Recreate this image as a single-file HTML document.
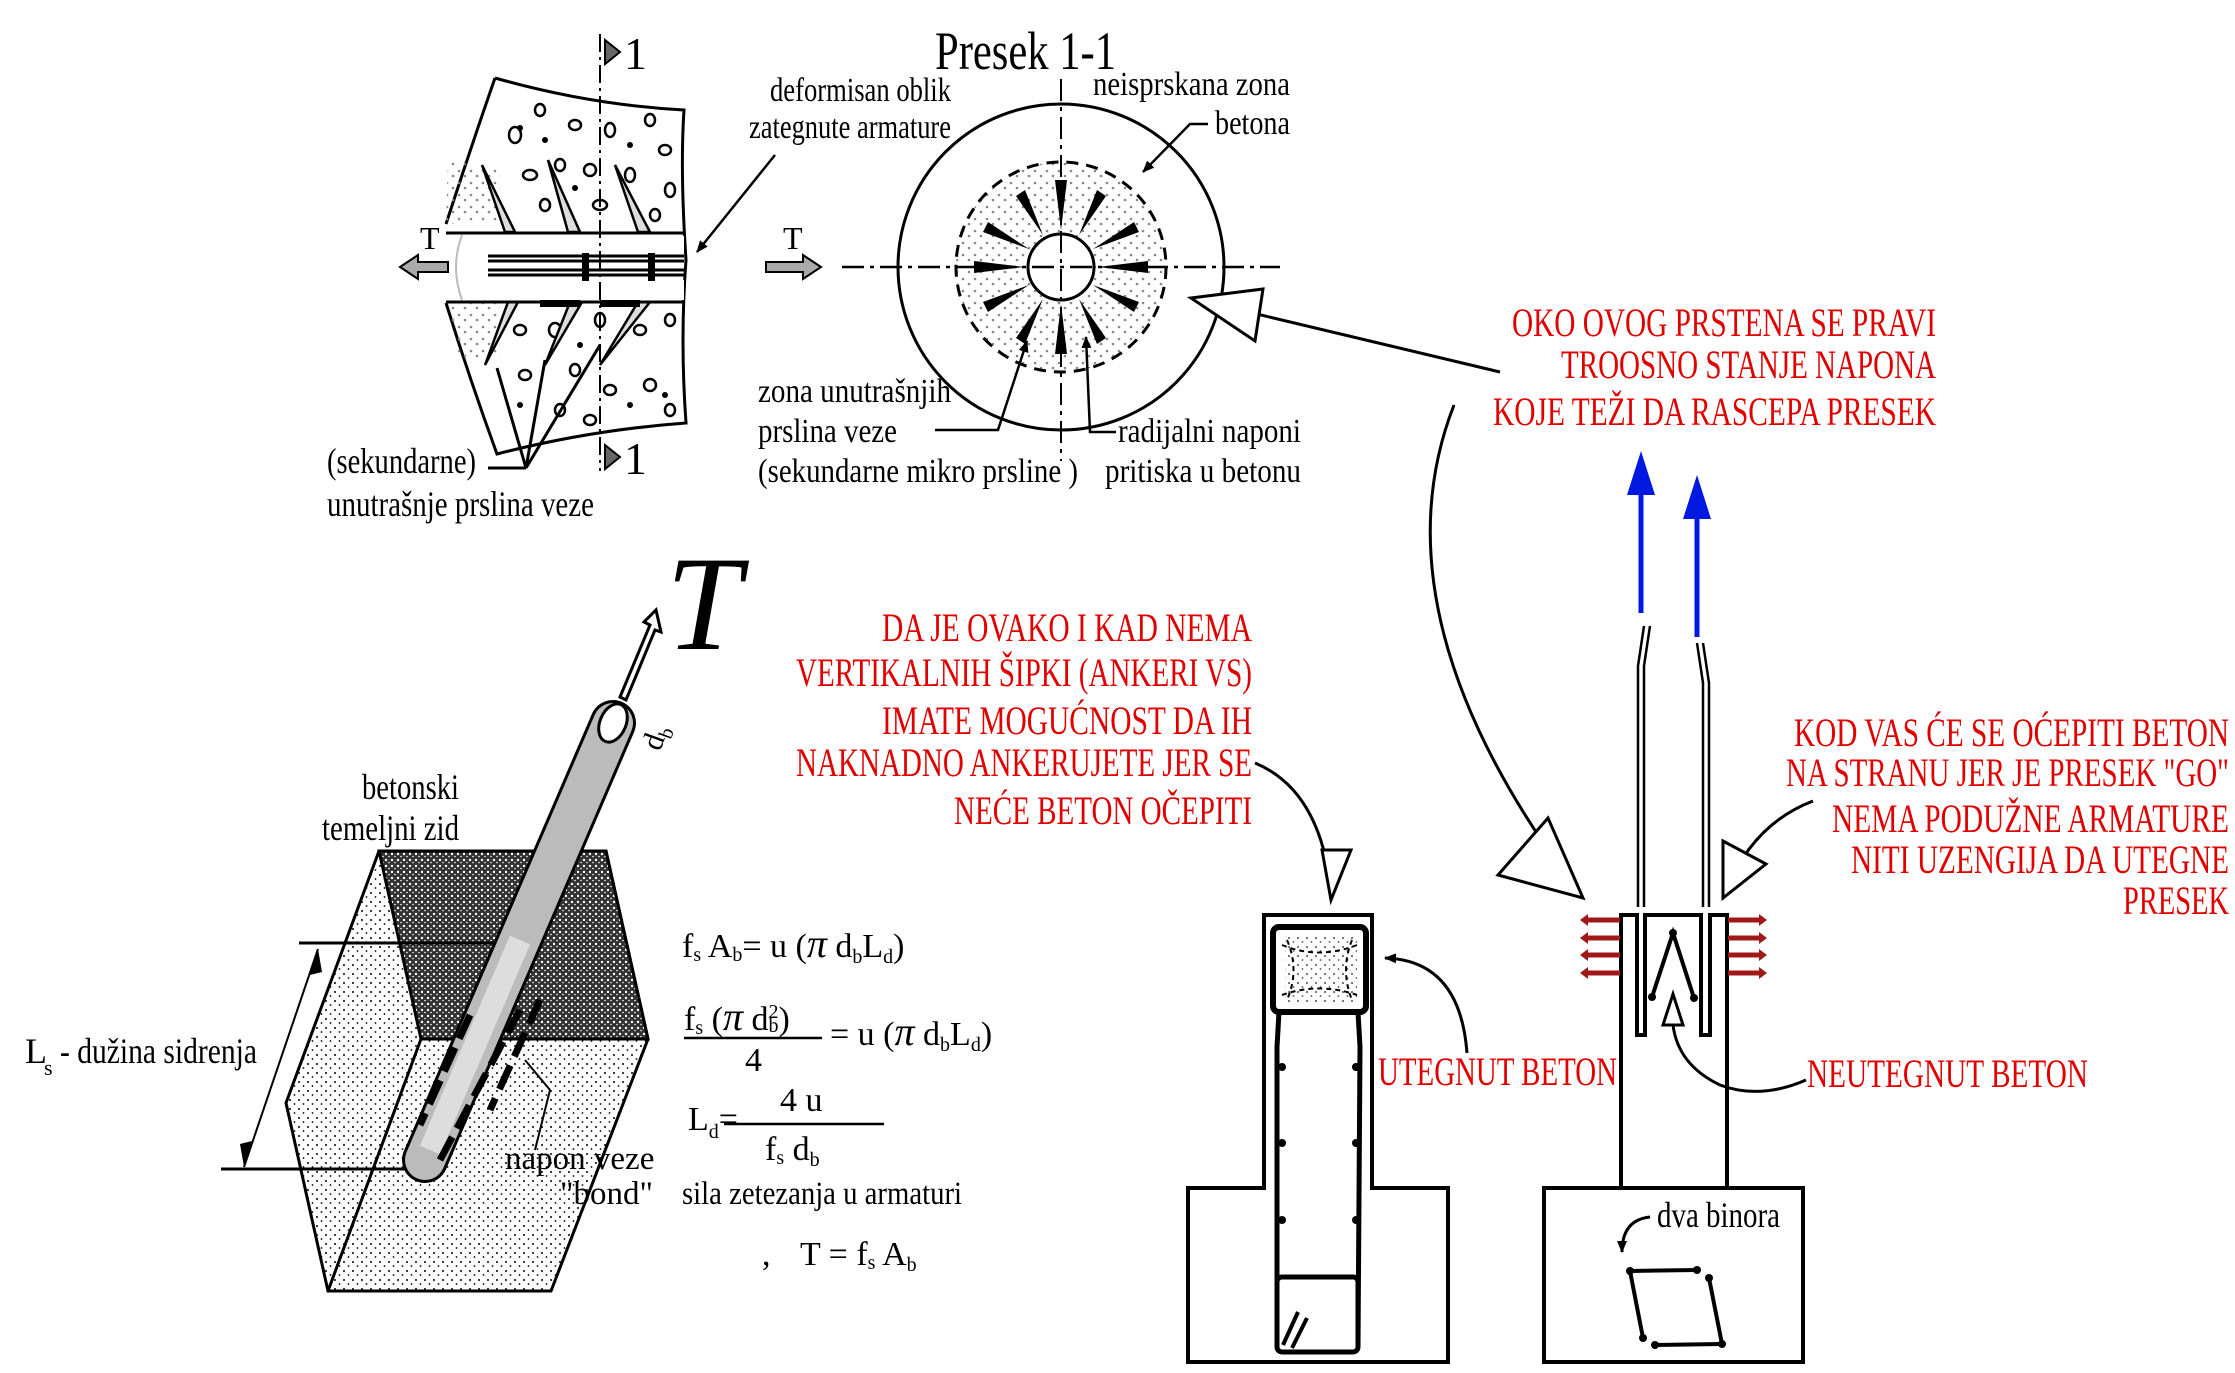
<!DOCTYPE html>
<html><head><meta charset="utf-8"><style>
html,body{margin:0;padding:0;background:#fff}
svg{display:block}
text{font-family:"Liberation Serif",serif}
.r{fill:#e00000}
.k{fill:#000}
</style></head><body>
<svg width="2235" height="1373" viewBox="0 0 2235 1373" xmlns="http://www.w3.org/2000/svg">
<defs>
<pattern id="dots" width="9" height="9" patternUnits="userSpaceOnUse">
<circle cx="2" cy="2" r="1" fill="#000"/><circle cx="6.5" cy="6" r="0.9" fill="#000"/></pattern>
<pattern id="gdots" width="12" height="12" patternUnits="userSpaceOnUse">
<circle cx="3" cy="3" r="1.3" fill="#888"/><circle cx="9" cy="8" r="1.3" fill="#888"/></pattern>
<pattern id="dark" width="6" height="6" patternUnits="userSpaceOnUse">
<rect width="6" height="6" fill="#333"/><circle cx="2" cy="2" r="1.2" fill="#fff"/><circle cx="5" cy="4.5" r="0.8" fill="#fff"/></pattern>
<marker id="ah" markerWidth="12" markerHeight="10" refX="11" refY="5" orient="auto" markerUnits="userSpaceOnUse"><path d="M0,0 L12,5 L0,10 Z" fill="#000"/></marker>
</defs>

<!-- ===== TOP LEFT BLOCK ===== -->
<g stroke="#000" stroke-width="3" fill="none">
<path d="M495,78 Q590,105 684,110 Q680,170 686,260 Q680,340 686,423 Q590,430 497,454 Q470,380 446,303" fill="#fff"/>
<path d="M495,78 Q470,150 446,224"/>
</g>
<path d="M448,160 L500,170 L500,220 L446,224 Z" fill="url(#gdots)"/>
<path d="M448,305 L500,300 L500,360 L460,360 Z" fill="url(#gdots)"/>
<g stroke="#000" stroke-width="2.5" fill="none">
<ellipse cx="515" cy="135" rx="6" ry="8"/><ellipse cx="540" cy="110" rx="5" ry="6"/><ellipse cx="575" cy="125" rx="6" ry="5"/>
<ellipse cx="610" cy="130" rx="5" ry="7"/><ellipse cx="650" cy="120" rx="5" ry="6"/><ellipse cx="665" cy="150" rx="6" ry="5"/>
<ellipse cx="530" cy="175" rx="7" ry="5"/><ellipse cx="560" cy="165" rx="5" ry="6"/><ellipse cx="590" cy="170" rx="6" ry="6"/>
<ellipse cx="630" cy="175" rx="5" ry="7"/><ellipse cx="670" cy="190" rx="5" ry="7"/><ellipse cx="545" cy="205" rx="5" ry="6"/>
<ellipse cx="600" cy="205" rx="7" ry="5"/><ellipse cx="655" cy="215" rx="5" ry="6"/>
<ellipse cx="520" cy="330" rx="6" ry="5"/><ellipse cx="555" cy="330" rx="6" ry="7"/><ellipse cx="600" cy="320" rx="5" ry="7"/>
<ellipse cx="640" cy="330" rx="6" ry="5"/><ellipse cx="670" cy="320" rx="5" ry="6"/><ellipse cx="525" cy="375" rx="6" ry="5"/>
<ellipse cx="575" cy="370" rx="5" ry="6"/><ellipse cx="610" cy="390" rx="6" ry="5"/><ellipse cx="650" cy="385" rx="6" ry="6"/>
<ellipse cx="560" cy="410" rx="5" ry="6"/><ellipse cx="670" cy="410" rx="5" ry="6"/><ellipse cx="590" cy="420" rx="6" ry="5"/>
</g>
<g fill="#000"><circle cx="520" cy="128" r="3"/><circle cx="545" cy="140" r="3"/><circle cx="630" cy="145" r="3"/><circle cx="575" cy="188" r="3"/><circle cx="645" cy="250" r="3"/><circle cx="580" cy="345" r="3"/><circle cx="520" cy="405" r="3"/><circle cx="665" cy="395" r="3"/><circle cx="630" cy="405" r="3"/></g>
<g stroke="#000" stroke-width="2.5" fill="#ddd">
<path d="M482,165 L515,232 L505,232 Z"/><path d="M548,160 L580,232 L568,232 Z"/><path d="M615,165 L650,232 L638,232 Z"/>
<path d="M485,365 L518,302 L508,302 Z"/><path d="M545,365 L582,302 L570,302 Z"/><path d="M600,365 L650,302 L638,302 Z"/>
</g>
<rect x="488" y="236" width="196" height="18" fill="#fff"/>
<rect x="488" y="280" width="196" height="20" fill="#fff"/>
<g stroke="#000" stroke-width="3">
<line x1="446" y1="233" x2="684" y2="233"/><line x1="446" y1="302" x2="684" y2="302"/>
<line x1="488" y1="256" x2="684" y2="256"/><line x1="488" y1="261" x2="684" y2="261"/>
<line x1="488" y1="270" x2="684" y2="270"/><line x1="488" y1="275" x2="684" y2="275"/>
</g>
<path d="M462,235 Q450,267 462,300" stroke="#bbb" stroke-width="2" fill="none"/>
<g fill="#000"><rect x="582" y="253" width="7" height="28"/><rect x="648" y="253" width="7" height="28"/><rect x="540" y="300" width="40" height="7"/><rect x="600" y="300" width="40" height="7"/></g>
<g stroke="#000" stroke-width="3" fill="none"><line x1="488" y1="468" x2="526" y2="468"/><line x1="526" y1="468" x2="497" y2="368"/><line x1="526" y1="468" x2="545" y2="360"/><line x1="526" y1="468" x2="600" y2="345"/></g>
<line x1="600" y1="34" x2="600" y2="471" stroke="#000" stroke-width="2" stroke-dasharray="18,5,3,5"/>
<path d="M605,40 L620,52 L605,64 Z" fill="#666" stroke="#000" stroke-width="2"/>
<path d="M605,445 L620,457 L605,469 Z" fill="#666" stroke="#000" stroke-width="2"/>
<text x="624" y="69" class="k" font-size="46">1</text>
<text x="624" y="474" class="k" font-size="46">1</text>
<path d="M400,267 L418,255 L418,262 L448,262 L448,272 L418,272 L418,279 Z" fill="#aaa" stroke="#000" stroke-width="2"/>
<text x="420" y="249" class="k" font-size="32">T</text>
<path d="M821,267 L803,255 L803,262 L766,262 L766,272 L803,272 L803,279 Z" fill="#aaa" stroke="#000" stroke-width="2"/>
<text x="783" y="249" class="k" font-size="32">T</text>
<text x="770" y="101" class="k" font-size="34" textLength="181" lengthAdjust="spacingAndGlyphs">deformisan oblik</text>
<text x="749" y="138" class="k" font-size="34" textLength="202" lengthAdjust="spacingAndGlyphs">zategnute armature</text>
<line x1="775" y1="155" x2="697" y2="252" stroke="#000" stroke-width="2.5" marker-end="url(#ah)"/>
<text x="327" y="473" class="k" font-size="36" textLength="149" lengthAdjust="spacingAndGlyphs">(sekundarne)</text>
<text x="327" y="516" class="k" font-size="36" textLength="267" lengthAdjust="spacingAndGlyphs">unutrašnje prslina veze</text>

<!-- ===== PRESEK 1-1 ===== -->
<text x="935" y="69" class="k" font-size="54" textLength="181" lengthAdjust="spacingAndGlyphs">Presek 1-1</text>
<circle cx="1061" cy="267" r="105" fill="url(#gdots)"/>
<circle cx="1061" cy="267" r="163" fill="none" stroke="#000" stroke-width="3"/>
<circle cx="1061" cy="267" r="105" fill="none" stroke="#000" stroke-width="3" stroke-dasharray="12,8"/>
<circle cx="1061" cy="267" r="33" fill="#fff" stroke="#000" stroke-width="3"/>
<line x1="842" y1="267" x2="1280" y2="267" stroke="#000" stroke-width="2.5" stroke-dasharray="22,6,4,6"/>
<line x1="1061" y1="79" x2="1061" y2="461" stroke="#000" stroke-width="2" stroke-dasharray="22,6,4,6"/>
<g fill="#000">
<path d="M1061,230 L1055,180 L1067,180 Z"/><path d="M1061,304 L1055,354 L1067,354 Z"/>
<path d="M1024,267 L974,261 L974,273 Z"/><path d="M1098,267 L1148,261 L1148,273 Z"/>
<path d="M1079,235 L1097,190 L1106,196 Z"/><path d="M1043,235 L1025,190 L1016,196 Z"/>
<path d="M1079,299 L1097,344 L1106,338 Z"/><path d="M1043,299 L1025,344 L1016,338 Z"/>
<path d="M1093,249 L1134,222 L1139,232 Z"/><path d="M1029,249 L988,222 L983,232 Z"/>
<path d="M1093,285 L1134,312 L1139,302 Z"/><path d="M1029,285 L988,312 L983,302 Z"/>
</g>
<text x="1093" y="95" class="k" font-size="34" textLength="197" lengthAdjust="spacingAndGlyphs">neisprskana zona</text>
<text x="1215" y="134" class="k" font-size="34" textLength="75" lengthAdjust="spacingAndGlyphs">betona</text>
<polyline points="1208,124 1190,124 1143,172" fill="none" stroke="#000" stroke-width="2.5" marker-end="url(#ah)"/>
<text x="758" y="402" class="k" font-size="34" textLength="193" lengthAdjust="spacingAndGlyphs">zona unutrašnjih</text>
<text x="758" y="442" class="k" font-size="34" textLength="139" lengthAdjust="spacingAndGlyphs">prslina veze</text>
<text x="758" y="482" class="k" font-size="34" textLength="320" lengthAdjust="spacingAndGlyphs">(sekundarne mikro prsline )</text>
<polyline points="935,430 998,430 1027,341" fill="none" stroke="#000" stroke-width="2.5" marker-end="url(#ah)"/>
<text x="1118" y="442" class="k" font-size="34" textLength="183" lengthAdjust="spacingAndGlyphs">radijalni naponi</text>
<text x="1105" y="482" class="k" font-size="34" textLength="196" lengthAdjust="spacingAndGlyphs">pritiska u betonu</text>
<polyline points="1116,432 1090,432 1086,337" fill="none" stroke="#000" stroke-width="2.5" marker-end="url(#ah)"/>
<line x1="1500" y1="372" x2="1240" y2="310" stroke="#000" stroke-width="3"/>
<path d="M1191,298 L1263,289 L1255,341 Z" fill="#fff" stroke="#000" stroke-width="3"/>

<!-- ===== RED TEXTS ===== -->
<g class="r" text-anchor="end" font-size="40">
<text x="1936" y="336" textLength="424" lengthAdjust="spacingAndGlyphs">OKO OVOG PRSTENA SE PRAVI</text>
<text x="1936" y="378" textLength="375" lengthAdjust="spacingAndGlyphs">TROOSNO STANJE NAPONA</text>
<text x="1936" y="425" textLength="443" lengthAdjust="spacingAndGlyphs">KOJE TEŽI DA RASCEPA PRESEK</text>
<text x="1252" y="641" textLength="370" lengthAdjust="spacingAndGlyphs">DA JE OVAKO I KAD NEMA</text>
<text x="1252" y="686" textLength="456" lengthAdjust="spacingAndGlyphs">VERTIKALNIH ŠIPKI (ANKERI VS)</text>
<text x="1252" y="734" textLength="370" lengthAdjust="spacingAndGlyphs">IMATE MOGUĆNOST DA IH</text>
<text x="1252" y="776" textLength="456" lengthAdjust="spacingAndGlyphs">NAKNADNO ANKERUJETE JER SE</text>
<text x="1252" y="824" textLength="298" lengthAdjust="spacingAndGlyphs">NEĆE BETON OČEPITI</text>
<text x="2229" y="746" textLength="435" lengthAdjust="spacingAndGlyphs">KOD VAS ĆE SE OĆEPITI BETON</text>
<text x="2229" y="786" textLength="443" lengthAdjust="spacingAndGlyphs">NA STRANU JER JE PRESEK "GO"</text>
<text x="2229" y="832" textLength="397" lengthAdjust="spacingAndGlyphs">NEMA PODUŽNE ARMATURE</text>
<text x="2229" y="873" textLength="378" lengthAdjust="spacingAndGlyphs">NITI UZENGIJA DA UTEGNE</text>
<text x="2229" y="914" textLength="106" lengthAdjust="spacingAndGlyphs">PRESEK</text>
</g>
<text x="1378" y="1085" class="r" font-size="40" textLength="239" lengthAdjust="spacingAndGlyphs">UTEGNUT BETON</text>
<text x="1807" y="1087" class="r" font-size="40" textLength="281" lengthAdjust="spacingAndGlyphs">NEUTEGNUT BETON</text>

<path d="M1454,405 Q1370,620 1583,898" fill="none" stroke="#000" stroke-width="3"/>
<path d="M1498,875 L1548,818 L1583,898 Z" fill="#fff" stroke="#000" stroke-width="3"/>
<path d="M1813,801 Q1750,825 1723,898" fill="none" stroke="#000" stroke-width="3"/>
<path d="M1723,841 L1766,864 L1723,898 Z" fill="#fff" stroke="#000" stroke-width="3"/>
<path d="M1255,763 Q1320,790 1331,890" fill="none" stroke="#000" stroke-width="3"/>
<path d="M1322,850 L1351,850 L1331,900 Z" fill="#fff" stroke="#000" stroke-width="3"/>

<!-- ===== LEFT SECTION ===== -->
<path d="M1264,1188 V915 H1372 V1188 H1448 V1362 H1188 V1188 Z" fill="none" stroke="#000" stroke-width="4"/>
<rect x="1285" y="937" width="72" height="65" fill="url(#dots)" opacity="0.7"/>
<rect x="1273" y="927" width="93" height="85" rx="6" fill="none" stroke="#000" stroke-width="6"/>
<path d="M1282,945 Q1319,960 1357,945 M1282,995 Q1319,982 1357,995 M1287,940 Q1300,970 1287,1000 M1352,940 Q1340,970 1352,1000" fill="none" stroke="#000" stroke-width="2" stroke-dasharray="5,4"/>
<polyline points="1279,1012 1277,1047 1277,1347" fill="none" stroke="#000" stroke-width="5"/>
<polyline points="1358,1012 1360,1047 1358,1347" fill="none" stroke="#000" stroke-width="5"/>
<rect x="1277" y="1277" width="81" height="75" rx="5" fill="none" stroke="#000" stroke-width="5"/>
<g fill="#000"><circle cx="1282" cy="1067" r="4"/><circle cx="1356" cy="1067" r="4"/><circle cx="1282" cy="1143" r="4"/><circle cx="1356" cy="1143" r="4"/><circle cx="1282" cy="1220" r="4"/><circle cx="1356" cy="1220" r="4"/></g>
<g stroke="#000" stroke-width="4"><line x1="1283" y1="1345" x2="1298" y2="1312"/><line x1="1292" y1="1348" x2="1307" y2="1318"/></g>
<path d="M1467,1053 Q1460,960 1385,958" fill="none" stroke="#000" stroke-width="3" marker-end="url(#ah)"/>

<!-- ===== RIGHT SECTION ===== -->
<path d="M1621,1188 V915 H1637 V1035 H1645 V915 H1701 V1035 H1710 V915 H1727 V1188" fill="none" stroke="#000" stroke-width="4"/>
<rect x="1544" y="1188" width="259" height="174" fill="none" stroke="#000" stroke-width="4"/>
<g fill="none" stroke="#000" stroke-width="2.5">
<polyline points="1638,907 1638,666 1644,626"/><polyline points="1644,907 1644,666 1650,626"/>
<polyline points="1703,907 1703,683 1697,643"/><polyline points="1709,907 1709,683 1703,643"/>
</g>
<g stroke="#0018e0" stroke-width="5" fill="#0018e0">
<line x1="1641" y1="613" x2="1641" y2="490"/><path d="M1627,495 L1641,451 L1655,495 Z" stroke="none"/>
<line x1="1697" y1="637" x2="1697" y2="515"/><path d="M1683,519 L1697,475 L1711,519 Z" stroke="none"/>
</g>
<g stroke="#a01818" stroke-width="5" fill="#a01818">
<line x1="1584" y1="920" x2="1620" y2="920"/><line x1="1584" y1="938" x2="1620" y2="938"/><line x1="1584" y1="955" x2="1620" y2="955"/><line x1="1584" y1="973" x2="1620" y2="973"/>
<path d="M1580,920 l8,-6 v12z M1580,938 l8,-6 v12z M1580,955 l8,-6 v12z M1580,973 l8,-6 v12z" stroke="none"/>
<line x1="1728" y1="920" x2="1762" y2="920"/><line x1="1728" y1="938" x2="1762" y2="938"/><line x1="1728" y1="955" x2="1762" y2="955"/><line x1="1728" y1="973" x2="1762" y2="973"/>
<path d="M1767,920 l-8,-6 v12z M1767,938 l-8,-6 v12z M1767,955 l-8,-6 v12z M1767,973 l-8,-6 v12z" stroke="none"/>
</g>
<polyline points="1652,997 1673,933 1694,998" fill="none" stroke="#000" stroke-width="4"/>
<g fill="#000"><circle cx="1652" cy="997" r="4"/><circle cx="1673" cy="933" r="4"/><circle cx="1694" cy="998" r="4"/></g>
<path d="M1806,1080 Q1760,1100 1720,1085 Q1678,1065 1673,1025" fill="none" stroke="#000" stroke-width="3"/>
<path d="M1663,1025 L1683,1025 L1673,994 Z" fill="#fff" stroke="#000" stroke-width="3"/>
<text x="1657" y="1227" class="k" font-size="36" textLength="123" lengthAdjust="spacingAndGlyphs">dva binora</text>
<path d="M1650,1217 Q1622,1220 1622,1252" fill="none" stroke="#000" stroke-width="3" marker-end="url(#ah)"/>
<g stroke="#000" stroke-width="4"><line x1="1630" y1="1271" x2="1697" y2="1270"/><line x1="1630" y1="1271" x2="1643" y2="1338"/><line x1="1709" y1="1278" x2="1722" y2="1344"/><line x1="1655" y1="1345" x2="1722" y2="1344"/></g>
<g fill="#000"><circle cx="1630" cy="1271" r="4"/><circle cx="1697" cy="1270" r="4"/><circle cx="1643" cy="1338" r="4"/><circle cx="1709" cy="1278" r="4"/><circle cx="1722" cy="1344" r="4"/><circle cx="1655" cy="1345" r="4"/></g>

<!-- ===== BOTTOM LEFT 3D BLOCK ===== -->
<path d="M379,851 L606,851 L648,1039 L551,1291 L328,1291 L286,1103 Z" fill="url(#dots)" stroke="#000" stroke-width="3"/>
<path d="M379,851 L606,851 L648,1039 L421,1039 Z" fill="url(#dark)" stroke="#000" stroke-width="3"/>
<line x1="421" y1="1039" x2="328" y2="1291" stroke="#000" stroke-width="3"/>
<line x1="299" y1="943" x2="505" y2="943" stroke="#000" stroke-width="3"/>
<line x1="221" y1="1169" x2="413" y2="1169" stroke="#000" stroke-width="3"/>
<line x1="318" y1="949" x2="244" y2="1167" stroke="#000" stroke-width="2"/>
<path d="M318,949 L310,975 L322,972 Z M244,1167 L252,1141 L240,1144 Z" fill="#000"/>
<line x1="425" y1="1160" x2="613" y2="723" stroke="#000" stroke-width="46" stroke-linecap="round"/>
<line x1="425" y1="1160" x2="613" y2="723" stroke="#bbb" stroke-width="40" stroke-linecap="round"/>
<line x1="430" y1="1150" x2="520" y2="940" stroke="#ddd" stroke-width="22"/>
<ellipse cx="613" cy="723" rx="13" ry="20" transform="rotate(23 613 723)" fill="#fff" stroke="#000" stroke-width="3"/>
<g stroke="#000" stroke-width="7" fill="none" stroke-dasharray="26,10">
<line x1="470" y1="1015" x2="420" y2="1125"/><line x1="520" y1="1010" x2="440" y2="1160"/><line x1="540" y1="1000" x2="490" y2="1110"/>
</g>
<path d="M620,697 L650,625 L644,622 L656,610 L661,632 L655,630 L626,700 Z" fill="#fff" stroke="#000" stroke-width="3"/>
<text x="666" y="649" font-size="135" font-style="italic" class="k">T</text>
<text x="660" y="752" class="k" font-size="30" transform="rotate(-70 660 752)">d<tspan font-size="20" dy="6">b</tspan></text>
<text x="362" y="799" class="k" font-size="36" textLength="97" lengthAdjust="spacingAndGlyphs">betonski</text>
<text x="322" y="840" class="k" font-size="36" textLength="137" lengthAdjust="spacingAndGlyphs">temeljni zid</text>
<text x="25" y="1063" class="k" font-size="36">L</text>
<text x="44" y="1075" class="k" font-size="22">s</text>
<text x="60" y="1063" class="k" font-size="36" textLength="197" lengthAdjust="spacingAndGlyphs">- dužina sidrenja</text>
<text x="505" y="1169" class="k" font-size="33">napon veze</text>
<text x="560" y="1204" class="k" font-size="33">"bond"</text>
<path d="M535,1150 L550,1090 L525,1060" fill="none" stroke="#000" stroke-width="2"/>
<g class="k" font-size="34">
<text x="682" y="957">f<tspan font-size="20" dy="4">s</tspan><tspan dy="-4"> A</tspan><tspan font-size="20" dy="4">b</tspan><tspan dy="-4">= u (</tspan><tspan font-style="italic" font-size="40">π</tspan><tspan> d</tspan><tspan font-size="20" dy="6">b</tspan><tspan dy="-6">L</tspan><tspan font-size="20" dy="6">d</tspan><tspan dy="-6">)</tspan></text>
<text x="684" y="1030">f<tspan font-size="20" dy="4">s</tspan><tspan dy="-4">  (</tspan><tspan font-style="italic" font-size="40">π</tspan><tspan> d</tspan><tspan font-size="20" dy="-12">2</tspan><tspan font-size="20" dy="14" dx="-10">b</tspan><tspan dy="-2">)</tspan></text>
<line x1="684" y1="1038" x2="822" y2="1038" stroke="#000" stroke-width="2.5"/>
<text x="745" y="1071">4</text>
<text x="830" y="1045">= u (<tspan font-style="italic" font-size="40">π</tspan> d<tspan font-size="20" dy="6">b</tspan><tspan dy="-6">L</tspan><tspan font-size="20" dy="6">d</tspan><tspan dy="-6">)</tspan></text>
<text x="688" y="1130">L<tspan font-size="20" dy="8">d</tspan><tspan dy="-8">=</tspan></text>
<text x="780" y="1111">4 u</text>
<line x1="724" y1="1124" x2="884" y2="1124" stroke="#000" stroke-width="2.5"/>
<text x="765" y="1160">f<tspan font-size="20" dy="4">s</tspan><tspan dy="-4">  d</tspan><tspan font-size="20" dy="6">b</tspan></text>
<text x="682" y="1204" font-size="33" textLength="280" lengthAdjust="spacingAndGlyphs">sila zetezanja u armaturi</text>
<text x="762" y="1265">,</text>
<text x="800" y="1265">T = f<tspan font-size="20" dy="4">s</tspan><tspan dy="-4"> A</tspan><tspan font-size="20" dy="6">b</tspan></text>
</g>
</svg>
</body></html>
